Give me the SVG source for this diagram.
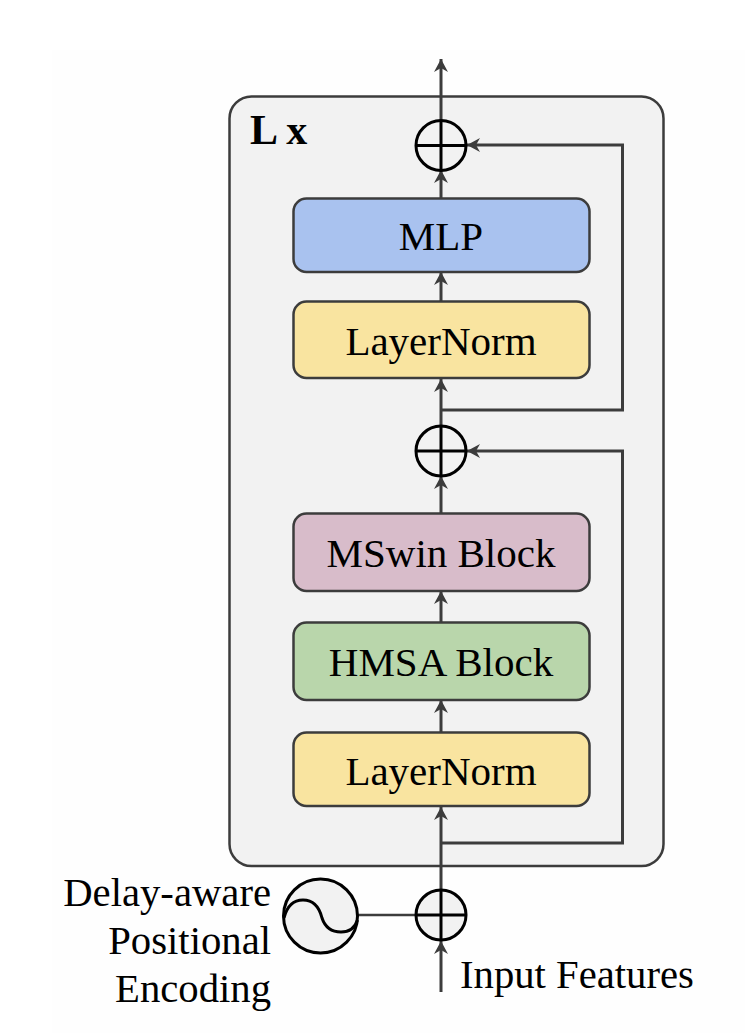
<svg xmlns="http://www.w3.org/2000/svg" width="745" height="1033" viewBox="0 0 745 1033">
<style>
text{font-family:"Liberation Serif","Times New Roman",serif;fill:#000}
.lbl{font-size:41px;text-anchor:middle}
.side{font-size:40.700px;text-anchor:end}
.box{stroke:#3c3c3c;stroke-width:2.500}
.c{fill:none;stroke:#3c3c3c;stroke-width:3}
.t{fill:none;stroke:#3c3c3c;stroke-width:2.500}
.op{stroke:#000;stroke-width:3;fill:none}
</style>
<defs>
<marker id="a" markerUnits="userSpaceOnUse" markerWidth="16" markerHeight="16" refX="13" refY="7" orient="auto"><path d="M0 0L13 7L0 14L4 7Z" fill="#3c3c3c"/></marker>
</defs>
<rect width="745" height="1033" fill="#fff"/>
<rect x="52" y="50" width="693" height="983" fill="#fefefe"/>
<g id="container"><rect x="229.500" y="96.500" width="434" height="769.500" rx="22" fill="#f2f2f2" stroke="#3c3c3c" stroke-width="2.500"/><text x="250" y="144" font-size="42" font-weight="bold">L x</text></g>
<g id="connectors">
<path class="c" d="M441 121V59" marker-end="url(#a)"/>
<path class="c" d="M441 198V170" marker-end="url(#a)"/>
<path class="c" d="M441 301V272" marker-end="url(#a)"/>
<path class="c" d="M441 426V379" marker-end="url(#a)"/>
<path class="c" d="M441 410H622.500V145H467" marker-end="url(#a)"/>
<path class="c" d="M441 513V476" marker-end="url(#a)"/>
<path class="c" d="M441 622V591" marker-end="url(#a)"/>
<path class="c" d="M441 732V700" marker-end="url(#a)"/>
<path class="c" d="M441 891V807" marker-end="url(#a)"/>
<path class="c" d="M441 843H622.500V451H467" marker-end="url(#a)"/>
<path class="c" d="M441 992V941" marker-end="url(#a)"/>
<path class="t" d="M358 915H416"/>
</g>
<g id="add-top"><circle class="op" cx="441" cy="145.500" r="25"/><path class="op" d="M416 145.500H466M441 120V171"/></g>
<g id="mlp"><rect class="box" x="293.500" y="198.500" width="296" height="73.500" rx="13" fill="#a9c2ef"/><text class="lbl" x="441" y="250">MLP</text></g>
<g id="layernorm-top"><rect class="box" x="293.500" y="301.500" width="296" height="76.500" rx="13" fill="#f9e4a0"/><text class="lbl" x="441" y="355">LayerNorm</text></g>
<g id="add-mid"><circle class="op" cx="441" cy="451" r="25"/><path class="op" d="M416 451H466M441 426V476"/></g>
<g id="mswin"><rect class="box" x="293.500" y="513.500" width="296" height="77.500" rx="13" fill="#d8bcca"/><text class="lbl" x="441" y="567">MSwin Block</text></g>
<g id="hmsa"><rect class="box" x="293.500" y="622.500" width="296" height="77.500" rx="13" fill="#b9d6ab"/><text class="lbl" x="441" y="676">HMSA Block</text></g>
<g id="layernorm-bottom"><rect class="box" x="293.500" y="732.500" width="296" height="73.500" rx="13" fill="#f9e4a0"/><text class="lbl" x="441" y="785">LayerNorm</text></g>
<g id="add-bottom"><circle class="op" cx="441" cy="915" r="25" style="fill:#f2f2f2"/><path class="op" d="M416 915H466M441 890V941"/></g>
<g id="encoding"><circle class="op" style="fill:#f2f2f2" cx="320.500" cy="916" r="37"/><path class="op" d="M284 918C287 906 294 900 303 900C316 900 320 910 322 918C325 927 332 932 341 932C349 932 355 928 357.500 920"/>
<text class="side" x="271" y="906">Delay-aware</text><text class="side" x="271" y="954">Positional</text><text class="side" x="271" y="1002">Encoding</text></g>
<text id="input" x="460" y="988" font-size="40.700">Input Features</text>
</svg>
